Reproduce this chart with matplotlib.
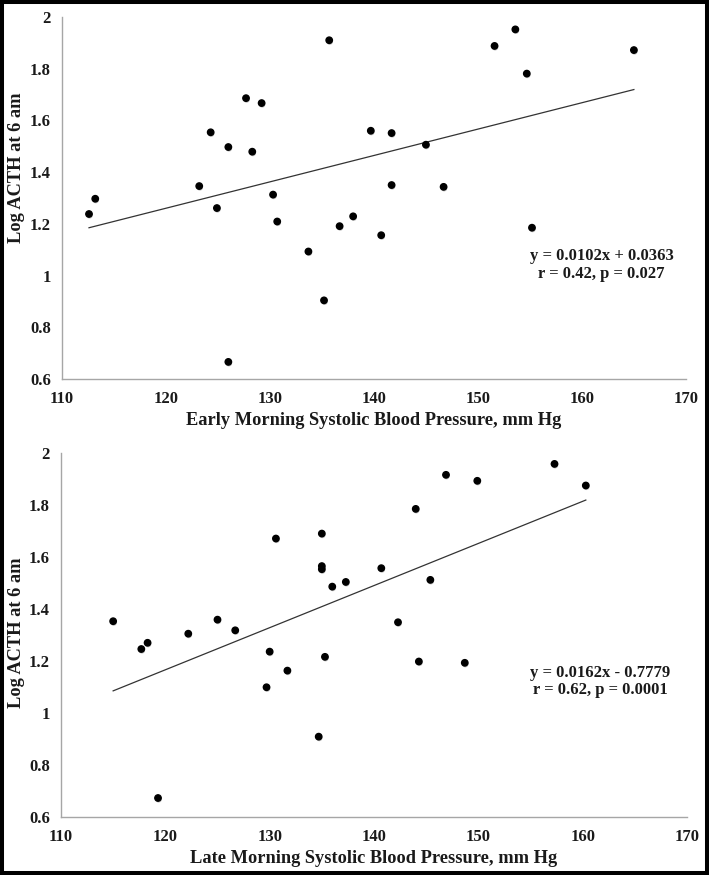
import numpy as np
import matplotlib
matplotlib.use("Agg")
import matplotlib.pyplot as plt
from matplotlib.patches import Rectangle
import matplotlib.patheffects as pe

plt.rcParams['font.family'] = ['Liberation Serif', 'DejaVu Serif']
plt.rcParams['font.weight'] = 'bold'
plt.rcParams['axes.labelweight'] = 'bold'

# early morning SBP vs log ACTH
early_sbp = [112.6, 113.2, 123.2, 124.3, 124.9, 126.0, 126.0, 127.7, 128.3, 129.2,
             130.3, 130.7, 133.7, 135.2, 135.7, 136.7, 138.0, 139.7, 141.7, 141.7,
             140.7, 145.0, 146.7, 151.6, 153.6, 154.7, 155.2, 165.0]
early_acth = [1.238, 1.297, 1.346, 1.554, 1.261, 1.497, 0.666, 1.686, 1.479, 1.667,
              1.313, 1.209, 1.093, 0.904, 1.910, 1.191, 1.229, 1.560, 1.551, 1.350,
              1.156, 1.506, 1.343, 1.888, 1.952, 1.781, 1.185, 1.872]
early_fit = (0.0102, 0.0363)
early_text = "y = 0.0102x + 0.0363\nr = 0.42, p = 0.027"

# late morning SBP vs log ACTH
late_sbp = [115.0, 117.7, 118.3, 119.3, 122.2, 125.0, 126.7, 129.7, 130.0, 130.6,
            131.7, 134.7, 135.0, 135.0, 135.0, 135.3, 136.0, 137.3, 140.7, 142.3,
            144.0, 144.3, 145.4, 146.9, 148.7, 149.9, 157.3, 160.3]
late_acth = [1.353, 1.246, 1.270, 0.673, 1.305, 1.359, 1.318, 1.099, 1.236, 1.671,
             1.163, 0.909, 1.690, 1.565, 1.553, 1.216, 1.486, 1.504, 1.557, 1.349,
             1.785, 1.198, 1.512, 1.916, 1.193, 1.893, 1.958, 1.875]
late_fit = (0.0162, -0.7779)
late_text = "y = 0.0162x - 0.7779\nr = 0.62, p = 0.0001"

xticks = [110, 120, 130, 140, 150, 160, 170]
yticks = [0.6, 0.8, 1.0, 1.2, 1.4, 1.6, 1.8, 2.0]
ytick_labels = ["0.6", "0.8", "1", "1.2", "1.4", "1.6", "1.8", "2"]
ylabel = "Log ACTH at 6 am"

TXT = '#1a1a1a'

def panel(ax, xs, ys, fit, note, xlabel, note_pos, ylab_pos):
    xs = np.array(xs); ys = np.array(ys)
    ax.plot(xs, ys, 'o', color='black', markersize=4.6, zorder=3,
            path_effects=[pe.SimplePatchShadow(offset=(0.4, -1.0), shadow_rgbFace='#888888', alpha=0.5),
                          pe.Normal()])
    lx = np.array([xs.min(), xs.max()])
    ax.plot(lx, fit[0]*lx + fit[1], color='#333333', linewidth=0.9, zorder=2)
    ax.set_xlim(110, 170); ax.set_ylim(0.6, 2.0)
    ax.set_xticks(xticks); ax.set_yticks(yticks)
    ax.set_yticklabels(ytick_labels)
    ax.tick_params(axis='both', length=0, labelsize=12, colors=TXT)
    ax.tick_params(axis='x', pad=9)
    ax.tick_params(axis='y', pad=8)
    for s in ['top', 'right']:
        ax.spines[s].set_visible(False)
    for s in ['left', 'bottom']:
        ax.spines[s].set_color('#a6a6a6')
        ax.spines[s].set_linewidth(1.0)
    ax.set_xlabel(xlabel, fontsize=13.2, color=TXT, labelpad=3, fontweight='bold')
    ax.set_ylabel(ylabel, fontsize=13.2, color=TXT, fontweight='bold')
    ax.yaxis.set_label_coords(*ylab_pos)
    ax.text(note_pos[0], note_pos[1], note, transform=ax.transAxes, ha='center', va='center',
            fontsize=12, color=TXT, linespacing=1.15, fontweight='bold')
    ax.set_facecolor('white')

fig = plt.figure(figsize=(7.09, 8.75), dpi=100)
ax1 = fig.add_axes([0.0874, 0.5669, 0.880, 0.4137])
ax2 = fig.add_axes([0.0860, 0.0663, 0.883, 0.4160])

panel(ax1, early_sbp, early_acth, early_fit, early_text,
      "Early Morning Systolic Blood Pressure, mm Hg", (0.865, 0.315), (-0.059, 0.584))
panel(ax2, late_sbp, late_acth, late_fit, late_text,
      "Late Morning Systolic Blood Pressure, mm Hg", (0.861, 0.372), (-0.0575, 0.505))

fig.patches.append(Rectangle((2/709, 2/875), 1-4/709, 1-4/875, transform=fig.transFigure,
                             fill=False, edgecolor='black', linewidth=2.9))

fig.savefig("out.png", dpi=100, facecolor='white')
